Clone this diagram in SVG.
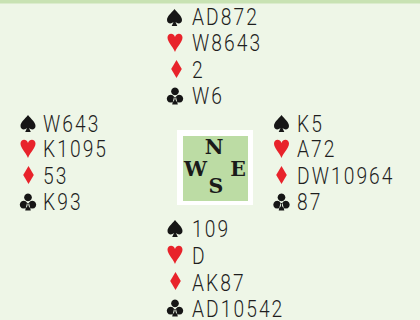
<svg xmlns="http://www.w3.org/2000/svg" width="420" height="320" viewBox="0 0 420 320">
<style>
.card{font-family:Roboto,"Liberation Sans",sans-serif;font-size:24px;font-weight:300;fill:#1e1e1e;letter-spacing:2.6px}
.dir{font-family:"DejaVu Serif","Liberation Serif",serif;font-weight:bold;font-size:20.5px;fill:#1a1a1a;text-anchor:middle}
.blk{fill:#161616}
.red{fill:#e8232b}
</style>
<defs>
<path id="sp" d="M0,-8.5 C-3,-4.5 -7.5,-1.5 -7.5,2.5 C-7.5,6 -3.5,7 -1,4.5 L-2.8,8.5 L2.8,8.5 L1,4.5 C3.5,7 7.5,6 7.5,2.5 C7.5,-1.5 3,-4.5 0,-8.5Z"/>
<path id="he" d="M0,10 C-2.5,4 -7.5,0 -7.5,-4.5 C-7.5,-9 -1.5,-10 0,-5 C1.5,-10 7.5,-9 7.5,-4.5 C7.5,0 2.5,4 0,10Z"/>
<path id="di" d="M0,-9 L5.3,0 L0,9 L-5.3,0Z"/>
<path id="cl" d="M0,-8.5 a3.9,3.9 0 1,1 -0.01,0Z M-4.3,-1.2 a3.9,3.9 0 1,1 -0.01,0Z M4.3,-1.2 a3.9,3.9 0 1,1 -0.01,0Z M-1,1 L-2.8,8.5 L2.8,8.5 L1,1Z"/>
</defs>
<rect x="0" y="0" width="420" height="320" fill="#eef6e7"/>
<rect x="0" y="0" width="420" height="3.5" fill="#c8e2b3"/>

<g id="north">
<use href="#sp" class="blk" x="174.5" y="17.5"/>
<use href="#he" class="red" x="175" y="42"/>
<use href="#di" class="red" x="176.5" y="69"/>
<use href="#cl" class="blk" x="175" y="96"/>
<g transform="translate(192,0) scale(0.8,1)">
<text class="card" x="0" y="25">AD872</text>
<text class="card" x="0" y="51">W8643</text>
<text class="card" x="0" y="78">2</text>
<text class="card" x="0" y="104">W6</text>
</g>
</g>

<g id="west">
<use href="#sp" class="blk" x="28" y="123.5"/>
<use href="#he" class="red" x="28" y="148"/>
<use href="#di" class="red" x="28.5" y="175"/>
<use href="#cl" class="blk" x="28" y="202"/>
<g transform="translate(43,0) scale(0.8,1)">
<text class="card" x="0" y="132">W643</text>
<text class="card" x="0" y="157">K1095</text>
<text class="card" x="0" y="184">53</text>
<text class="card" x="0" y="210">K93</text>
</g>
</g>

<g id="east">
<use href="#sp" class="blk" x="281.5" y="123.5"/>
<use href="#he" class="red" x="281.5" y="148"/>
<use href="#di" class="red" x="281.5" y="175"/>
<use href="#cl" class="blk" x="281.5" y="202"/>
<g transform="translate(297,0) scale(0.8,1)">
<text class="card" x="0" y="132">K5</text>
<text class="card" x="0" y="157">A72</text>
<text class="card" x="0" y="184">DW10964</text>
<text class="card" x="0" y="210">87</text>
</g>
</g>

<g id="south">
<use href="#sp" class="blk" x="175" y="228.5"/>
<use href="#he" class="red" x="175" y="254"/>
<use href="#di" class="red" x="175.5" y="281"/>
<use href="#cl" class="blk" x="175" y="308"/>
<g transform="translate(192,0) scale(0.8,1)">
<text class="card" x="0" y="237">109</text>
<text class="card" x="0" y="264">D</text>
<text class="card" x="0" y="291">AK87</text>
<text class="card" x="0" y="317">AD10542</text>
</g>
</g>

<g id="compass">
<rect x="177" y="130" width="76" height="75" fill="#ffffff"/>
<rect x="183" y="136" width="65" height="65" fill="#bcdca4"/>
<text class="dir" x="214" y="153.5">N</text>
<text class="dir" x="195.5" y="176">W</text>
<text class="dir" x="238" y="176">E</text>
<text class="dir" x="216" y="192.5">S</text>
</g>
<g id="connectors"/>
</svg>
